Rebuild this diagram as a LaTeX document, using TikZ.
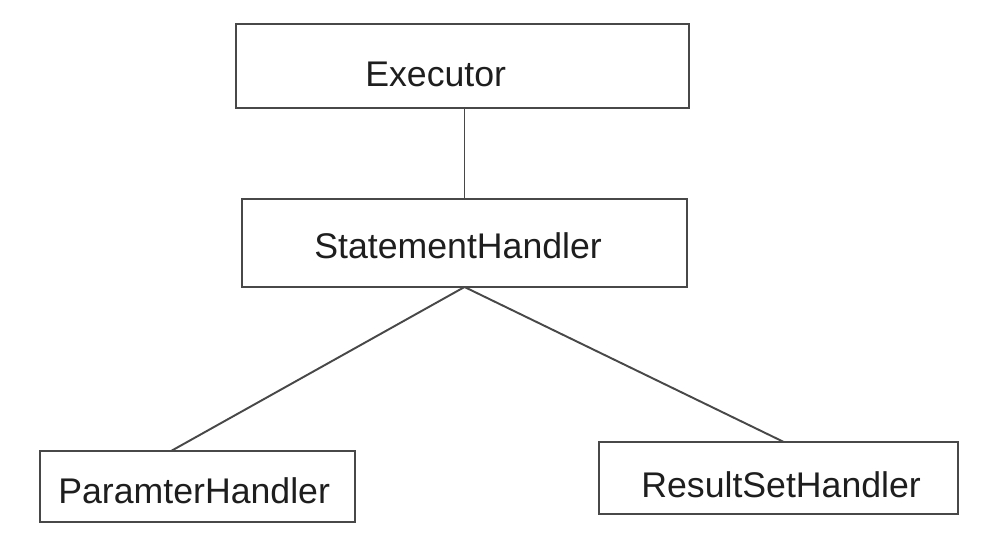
\documentclass[tikz,border=0pt]{standalone}
\usepackage{fontspec}
\setmainfont{Liberation Sans}
\usetikzlibrary{calc}
\definecolor{edgecol}{HTML}{484848}
\definecolor{txtcol}{HTML}{1E1E1E}
\begin{document}
\begin{tikzpicture}[x=0.02cm,y=-0.02cm,
  box/.style={draw=edgecol,line width=1.1pt,rectangle,inner sep=0pt,outer sep=0pt},
  lbl/.style={anchor=base west,inner sep=0pt,text=txtcol,font=\fontsize{20.3pt}{24pt}\selectfont},
  conn/.style={draw=edgecol,line width=1.1pt}]
\useasboundingbox (0,0) rectangle (1000,555);
\node[box,minimum width=9.06cm,minimum height=1.68cm] (exec) at (462.5,66) {};
\node[box,minimum width=8.9cm,minimum height=1.76cm] (stmt) at (464.5,243) {};
\node[box,minimum width=6.3cm,minimum height=1.42cm] (param) at (197.5,486.5) {};
\node[box,minimum width=7.18cm,minimum height=1.44cm] (res) at (778.5,478) {};
\node[lbl] (texec) at (365,86) {Executor};
\node[lbl] (tstmt) at (314,258) {StatementHandler};
\node[lbl] (tparam) at (58,503) {ParamterHandler};
\node[lbl] (tres) at (641,497) {ResultSetHandler};
\coordinate (pin) at ($(param.north west)!0.416!(param.north east)$);
\coordinate (rin) at ($(res.north west)!0.515!(res.north east)$);
\draw[conn] (stmt.north) -- (stmt.north |- exec.south);
\draw[conn] (stmt.south) -- (pin);
\draw[conn] (stmt.south) -- (rin);
\end{tikzpicture}
\end{document}
